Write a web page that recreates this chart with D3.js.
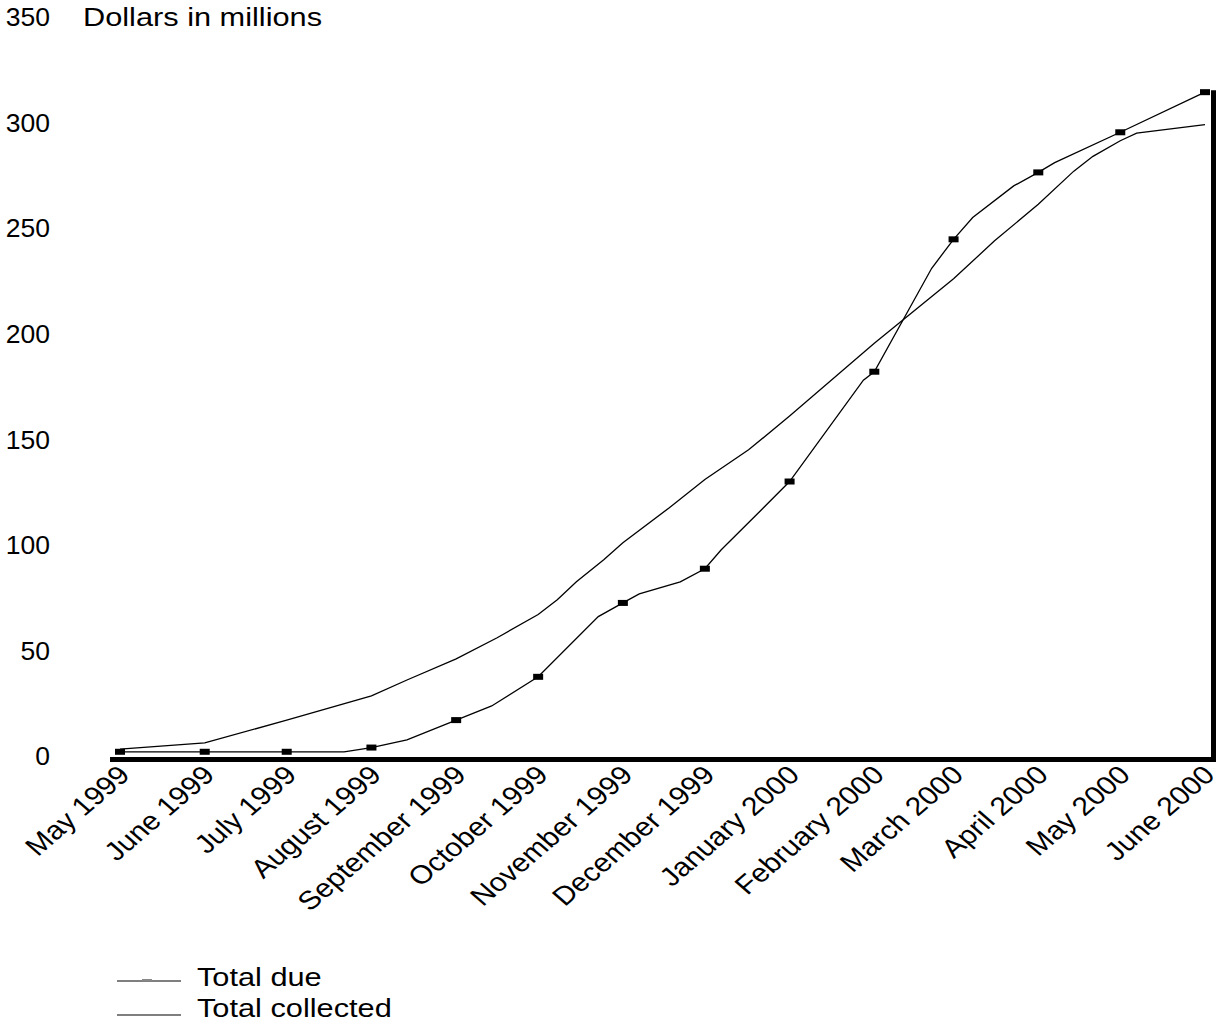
<!DOCTYPE html>
<html><head><meta charset="utf-8">
<script src="https://cdn.jsdelivr.net/npm/d3@7"></script>
<style>body{margin:0;background:#fff}svg{display:block}text{font-family:"Liberation Sans",Arial,sans-serif;fill:#000}</style>
</head><body><svg id="c" width="1220" height="1028"></svg>
<script>
const monthLabels = ["May 1999","June 1999","July 1999","August 1999","September 1999","October 1999","November 1999","December 1999","January 2000","February 2000","March 2000","April 2000","May 2000","June 2000"];
const monthDates = ["1999-05-01","1999-06-01","1999-07-01","1999-08-01","1999-09-01","1999-10-01","1999-11-01","1999-12-01","2000-01-01","2000-02-01","2000-03-01","2000-04-01","2000-05-01","2000-06-01"];
const yTicks = [0,50,100,150,200,250,300,350];

const dueDates = ["1999-05-01","1999-06-01","1999-07-01","1999-07-22","1999-08-01","1999-08-14","1999-09-01","1999-09-14","1999-10-01","1999-10-23","1999-11-01","1999-11-07","1999-11-22","1999-12-01","1999-12-07","1999-12-22","2000-01-01","2000-01-28","2000-02-01","2000-02-22","2000-03-01","2000-03-08","2000-03-23","2000-04-01","2000-04-07","2000-05-01","2000-06-01"];
const dueValues = [2,2,2,2,4,7.6,17,23.7,37.5,66,72.5,76.8,82.5,88.7,97.7,117,130,178,182,231,244.7,255,270,276.4,281,295.4,314.4];

const collectedDates = ["1999-05-01","1999-06-01","1999-07-01","1999-08-01","1999-08-14","1999-09-01","1999-09-16","1999-10-01","1999-10-08","1999-10-15","1999-10-25","1999-11-01","1999-11-18","1999-12-01","1999-12-17","2000-01-01","2000-02-01","2000-03-01","2000-03-16","2000-04-01","2000-04-14","2000-04-21","2000-05-01","2000-05-07","2000-06-01"];
const collectedValues = [3.3,6.2,17,28.5,36,46,56,67,74,82.5,93,101,117.6,131,145,161,195.5,226,244,261.3,277,284,291.4,295,299];

const parse = d3.timeParse("%Y-%m-%d");
const SX = 1.16, FS = 26.5, XFS = 26;
const svg = d3.select("#c");

const x = d3.scaleTime().domain([parse(monthDates[0]), parse(monthDates[monthDates.length-1])]).range([120,1205]);
const y = d3.scaleLinear().domain([0,350]).range([756,17]);

// y labels
svg.append("g").selectAll("text").data(yTicks).join("text")
  .attr("transform", d => `translate(50,${y(d)})`)
  .attr("text-anchor","end").attr("dy","0.35em").style("font-size",FS+"px").text(d=>d);
svg.append("text").attr("transform",`translate(83,${y(350)}) scale(${SX},1)`).attr("dy","0.35em")
  .style("font-size",FS+"px").text("Dollars in millions");

// x labels
svg.append("g").selectAll("text").data(monthLabels).join("text")
  .attr("transform",(d,i)=>`translate(${x(parse(monthDates[i]))+4},${770}) scale(${SX},1) rotate(-45)`)
  .attr("text-anchor","end").attr("dy","0.35em").style("font-size",XFS+"px").text(d=>d);

const line = d3.line().x(d=>x(d[0])).y(d=>y(d[1]));
const due = dueDates.map((d,i)=>[parse(d),dueValues[i]]);
const col = collectedDates.map((d,i)=>[parse(d),collectedValues[i]]);
svg.append("path").datum(col).attr("d",line).attr("fill","none").attr("stroke","#000").attr("stroke-width",1.3);
svg.append("path").datum(due).attr("d",line).attr("fill","none").attr("stroke","#000").attr("stroke-width",1.3);
svg.append("g").selectAll("rect").data(due.filter(d=>d[0].getDate()===1)).join("rect")
  .attr("x",d=>x(d[0])-5).attr("y",d=>y(d[1])-3).attr("width",10).attr("height",6).attr("fill","#000");

// axes frame
svg.append("line").attr("x1",110).attr("x2",1216).attr("y1",759.5).attr("y2",759.5).attr("stroke","#000").attr("stroke-width",5);
svg.append("line").attr("x1",1213.5).attr("x2",1213.5).attr("y1",y(314.4)-2).attr("y2",762).attr("stroke","#000").attr("stroke-width",5);

// legend
const leg = [["Total due",981,986,true],["Total collected",1015,1017,false]];
leg.forEach(([t,ly,ty,m])=>{
  svg.append("line").attr("x1",117).attr("x2",181).attr("y1",ly).attr("y2",ly).attr("stroke","#000").attr("stroke-width",1.2);
  if(m) svg.append("rect").attr("x",142).attr("y",ly-2).attr("width",10).attr("height",2).attr("fill","#888");
  svg.append("text").attr("transform",`translate(197,${ty}) scale(${SX},1)`).style("font-size",FS+"px").text(t);
});
</script></body></html>
